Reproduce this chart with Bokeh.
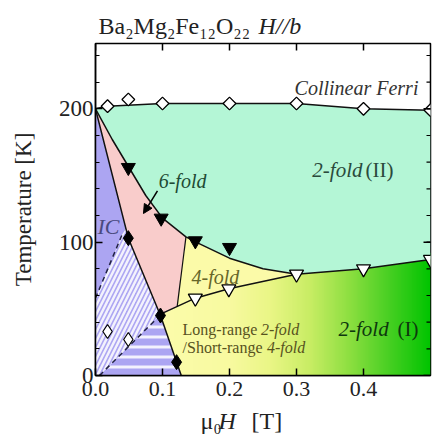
import numpy as np
from bokeh.plotting import figure
from bokeh.layouts import column
from bokeh.models import (FixedTicker, PrintfTickFormatter, Arrow, NormalHead, Range1d)
from bokeh.embed import file_html
from bokeh.resources import INLINE
from bokeh.core.properties import value

# ---------------- data ----------------
# Collinear ferri boundary (open diamonds)
ferri_H = [0.018, 0.049, 0.1, 0.2, 0.3, 0.4, 0.5]
ferri_T = [202, 207, 204, 204, 204, 200, 199]
ferri_line_H = [0.0, 0.018, 0.1, 0.2, 0.3, 0.4, 0.5]
ferri_line_T = [200, 202, 204, 204, 204, 200, 199]

# 6-fold / 2-fold(II) boundary (filled down triangles)
six_H = [0.049, 0.098, 0.149, 0.2]
six_T = [156, 118, 101, 96]
six_curve_H = [0.0, 0.025, 0.05, 0.075, 0.1, 0.135, 0.15, 0.2, 0.25, 0.3]
six_curve_T = [200, 177, 156, 135, 118, 104, 100, 88, 80, 76]

# lower boundary (open down triangles)
two_H = [0.149, 0.199, 0.3, 0.4, 0.5]
two_T = [58, 65, 76, 80, 87]
low_line_H = [0.097, 0.149, 0.199, 0.3, 0.4, 0.5]
low_line_T = [46, 58, 65, 76, 80, 87]

# IC boundary (filled diamonds)
ic_H = [0.049, 0.097, 0.121]
ic_T = [103, 45, 10]
ic_line_H = [0.0, 0.049, 0.097, 0.128]
ic_line_T = [200, 103, 45, 0]

# open diamonds inside IC
ico_H = [0.018, 0.049]
ico_T = [33, 27]

# 6-fold / 4-fold separating line
vert_H = [0.122, 0.135]
vert_T = [52, 104]

# dashed lines in IC region
dash_up_H = [0.0, 0.04]
dash_up_T = [58, 106]
dash_lo_H = [0.006, 0.092]
dash_lo_T = [0, 43]

x_ticks = [0.0, 0.1, 0.2, 0.3, 0.4]
y_ticks = [0, 100, 200]
y_minor = [0, 20, 40, 60, 80, 100, 120, 140, 160, 180, 200, 220, 240]

SERIF = "Liberation Serif"
X_MAX, Y_MAX = 0.5, 249
W, BL, BR = 433, 95, 3

xr = Range1d(0, X_MAX)


def txt(fig, x, y, s, size, color, style="normal", align="left", baseline="middle"):
    fig.text(x=[x], y=[y], text=[s], text_font=value(SERIF), text_font_size=size,
             text_font_style=style, text_color=color, text_align=align,
             text_baseline=baseline)


# ---------------- title strip ----------------
ft = figure(width=W, height=41, x_range=xr, y_range=Range1d(0, 41),
            output_backend="svg", toolbar_location=None,
            x_axis_location=None, y_axis_location=None,
            min_border_left=BL, min_border_right=BR, min_border_top=0, min_border_bottom=0)
ft.grid.visible = False
ft.outline_line_color = None
txt(ft, 0.0045, 16, "Ba₂Mg₂Fe₁₂O₂₂", "24px", "#222222", "normal", "left")
txt(ft, 0.2433, 16, "H//b", "24px", "#222222", "italic", "left")

# ---------------- main plot ----------------
p = figure(width=W, height=365, x_range=xr, y_range=Range1d(0, Y_MAX),
           output_backend="svg", toolbar_location=None,
           min_border_left=BL, min_border_right=BR, min_border_top=2, min_border_bottom=31)
p.grid.visible = False
p.outline_line_color = "black"
p.outline_line_width = 1.5
p.background_fill_color = "white"
p.border_fill_color = "white"

# gradient region 2-fold (I)
gx0, gx1, gy1 = 0.09, 0.5, 92
N = 300
xs = np.linspace(gx0, gx1, N)
stop_x = [0.09, 0.2, 0.26, 0.32, 0.38, 0.44, 0.5]
stop_r = [252, 248, 234, 200, 140, 70, 0]
stop_g = [252, 250, 246, 237, 223, 207, 196]
stop_b = [172, 160, 134, 100, 64, 34, 0]
img = np.zeros((1, N), dtype=np.uint32)
view = img.view(dtype=np.uint8).reshape((1, N, 4))
view[0, :, 0] = np.interp(xs, stop_x, stop_r)
view[0, :, 1] = np.interp(xs, stop_x, stop_g)
view[0, :, 2] = np.interp(xs, stop_x, stop_b)
view[0, :, 3] = 255
p.image_rgba(image=[img], x=gx0, y=0, dw=gx1 - gx0, dh=gy1)

# 2-fold (II)
g_x = ferri_line_H + [0.5] + low_line_H[::-1][:3] + six_curve_H[::-1]
g_y = ferri_line_T + [low_line_T[-1]] + low_line_T[::-1][:3] + six_curve_T[::-1]
p.patch(g_x, g_y, fill_color="#b4f6d6", line_color=None)

# 6-fold (pink)
pk_x = ic_line_H[:3] + [vert_H[0], vert_H[1]] + six_curve_H[:5][::-1]
pk_y = ic_line_T[:3] + [vert_T[0], vert_T[1]] + six_curve_T[:5][::-1]
p.patch(pk_x, pk_y, fill_color="#f9cccb", line_color=None)

# 4-fold (yellow)
y_x = [vert_H[0]] + six_curve_H[5:] + low_line_H[1:3][::-1]
y_y = [vert_T[0]] + six_curve_T[5:] + low_line_T[1:3][::-1]
p.patch(y_x, y_y, fill_color="#fbfaa8", line_color=None)

# IC (blue)
b_x = [0.0] + ic_line_H
b_y = [0] + ic_line_T
p.patch(b_x, b_y, fill_color="#aca5f2", line_color=None)

# hatched sub regions
top_T = 110
top_H = float(np.interp(top_T, ic_line_T[:2][::-1], ic_line_H[:2][::-1]))
d_x = [0.0] + dash_up_H + [top_H, ic_line_H[1], ic_line_H[2]] + dash_lo_H[::-1]
d_y = [0] + dash_up_T + [top_T, ic_line_T[1], ic_line_T[2]] + dash_lo_T[::-1]
p.patch(d_x, d_y, fill_color=None, line_color=None, hatch_pattern="/",
        hatch_color="white", hatch_alpha=0.85, hatch_weight=2.5, hatch_scale=9)
h_x = dash_lo_H + ic_line_H[2:]
h_y = dash_lo_T + ic_line_T[2:]
p.patch(h_x, h_y, fill_color=None, line_color=None, hatch_pattern="-",
        hatch_color="white", hatch_alpha=0.85, hatch_weight=3, hatch_scale=10)

# boundary lines
lc = "#111111"
p.line(ferri_line_H, ferri_line_T, line_color=lc, line_width=1.5)
p.line(six_curve_H, six_curve_T, line_color=lc, line_width=1.5)
p.line(low_line_H, low_line_T, line_color=lc, line_width=1.5)
p.line(ic_line_H, ic_line_T, line_color=lc, line_width=1.5)
p.line(vert_H, vert_T, line_color=lc, line_width=1.2)
p.line(dash_up_H, dash_up_T, line_color="#222244", line_width=1.5, line_dash="5 4")
p.line(dash_lo_H, dash_lo_T, line_color="#222244", line_width=1.5, line_dash="5 4")

# markers
p.scatter(ferri_H, ferri_T, marker="square", angle=np.pi / 4, size=9,
          fill_color="white", line_color="black", line_width=1.3)
p.scatter(six_H, six_T, marker="inverted_triangle", size=14,
          fill_color="black", line_color="black")
p.scatter(two_H, two_T, marker="inverted_triangle", size=14,
          fill_color="white", line_color="black", line_width=1.3)
p.scatter(ic_H, ic_T, marker="diamond", size=15,
          fill_color="black", line_color="black")
p.scatter(ico_H, ico_T, marker="diamond", size=14,
          fill_color="white", line_color="black", line_width=1.2)

p.add_layout(Arrow(end=NormalHead(size=9, fill_color="black", line_color="black"),
                   x_start=0.0925, y_start=138.5, x_end=0.0716, y_end=121.5,
                   line_width=1.5, line_color="black"))

# inward ticks on the top and right frame edges (half of each dash is clipped)
p.scatter([X_MAX] * len(y_ticks), y_ticks, marker="dash", size=14,
          line_color="black", line_width=1.5)
p.scatter([X_MAX] * len(y_minor), y_minor, marker="dash", size=8,
          line_color="black", line_width=1.2)
p.scatter(x_ticks, [Y_MAX] * len(x_ticks), marker="dash", angle=np.pi / 2, size=14,
          line_color="black", line_width=1.5)

# texts
txt(p, 0.482, 215.5, "Collinear Ferri", "20px", "#333333", "italic", "right")
txt(p, 0.130, 146, "6-fold", "20px", "#1e4a34", "italic", "center")
txt(p, 0.3985, 154, "2-fold", "21px", "#2a4a3c", "italic", "right")
txt(p, 0.403, 154, "(II)", "21px", "#2a4a3c", "normal", "left")
txt(p, 0.003, 111.5, "IC", "22px", "#4a4a7e", "italic", "left")
txt(p, 0.179, 74, "4-fold", "20px", "#66662a", "italic", "center")
txt(p, 0.130, 34.5, "Long-range ", "16px", "#57521e", "normal", "left")
txt(p, 0.247, 34.5, "2-fold", "16px", "#57521e", "italic", "left")
txt(p, 0.130, 21, "/Short-range ", "16px", "#57521e", "normal", "left")
txt(p, 0.256, 21, "4-fold", "16px", "#57521e", "italic", "left")
txt(p, 0.3627, 35, "2-fold", "21px", "#0e380e", "italic", "left")
txt(p, 0.4507, 35, "(I)", "21px", "#0e380e", "normal", "left")

# axes
def style_axis(ax, size):
    ax.axis_line_color = "black"
    ax.axis_line_width = 1.5
    ax.major_tick_in = 7
    ax.major_tick_out = 0
    ax.minor_tick_in = 4
    ax.minor_tick_out = 0
    ax.major_tick_line_width = 1.5
    ax.minor_tick_line_width = 1.2
    ax.major_tick_line_color = "black"
    ax.minor_tick_line_color = "black"
    ax.major_label_text_font = SERIF
    ax.major_label_text_color = "#222222"
    ax.major_label_text_font_size = size

xa = p.xaxis[0]
xa.ticker = FixedTicker(ticks=x_ticks, minor_ticks=[])
xa.formatter = PrintfTickFormatter(format="%.1f")
style_axis(xa, "22px")
xa.major_label_standoff = 6

ya = p.yaxis[0]
ya.ticker = FixedTicker(ticks=y_ticks, minor_ticks=y_minor)
style_axis(ya, "23px")
ya.major_label_standoff = 2
ya.axis_label = "Temperature [K]"
ya.axis_label_text_font = SERIF
ya.axis_label_text_font_style = "normal"
ya.axis_label_text_font_size = "23px"
ya.axis_label_text_color = "#222222"
ya.axis_label_standoff = 20

# ---------------- x-axis label strip ----------------
fx = figure(width=W, height=31, x_range=xr, y_range=Range1d(0, 31),
            output_backend="svg", toolbar_location=None,
            x_axis_location=None, y_axis_location=None,
            min_border_left=BL, min_border_right=BR, min_border_top=0, min_border_bottom=0)
fx.grid.visible = False
fx.outline_line_color = None
txt(fx, 0.1567, 16.5, "μ₀", "24px", "#222222", "normal", "left")
txt(fx, 0.1836, 16.5, "H", "24px", "#222222", "italic", "left")
txt(fx, 0.2328, 16.5, "[T]", "24px", "#222222", "normal", "left")

layout = column(ft, p, fx, spacing=0)
open("out.html", "w").write(file_html(layout, INLINE))
